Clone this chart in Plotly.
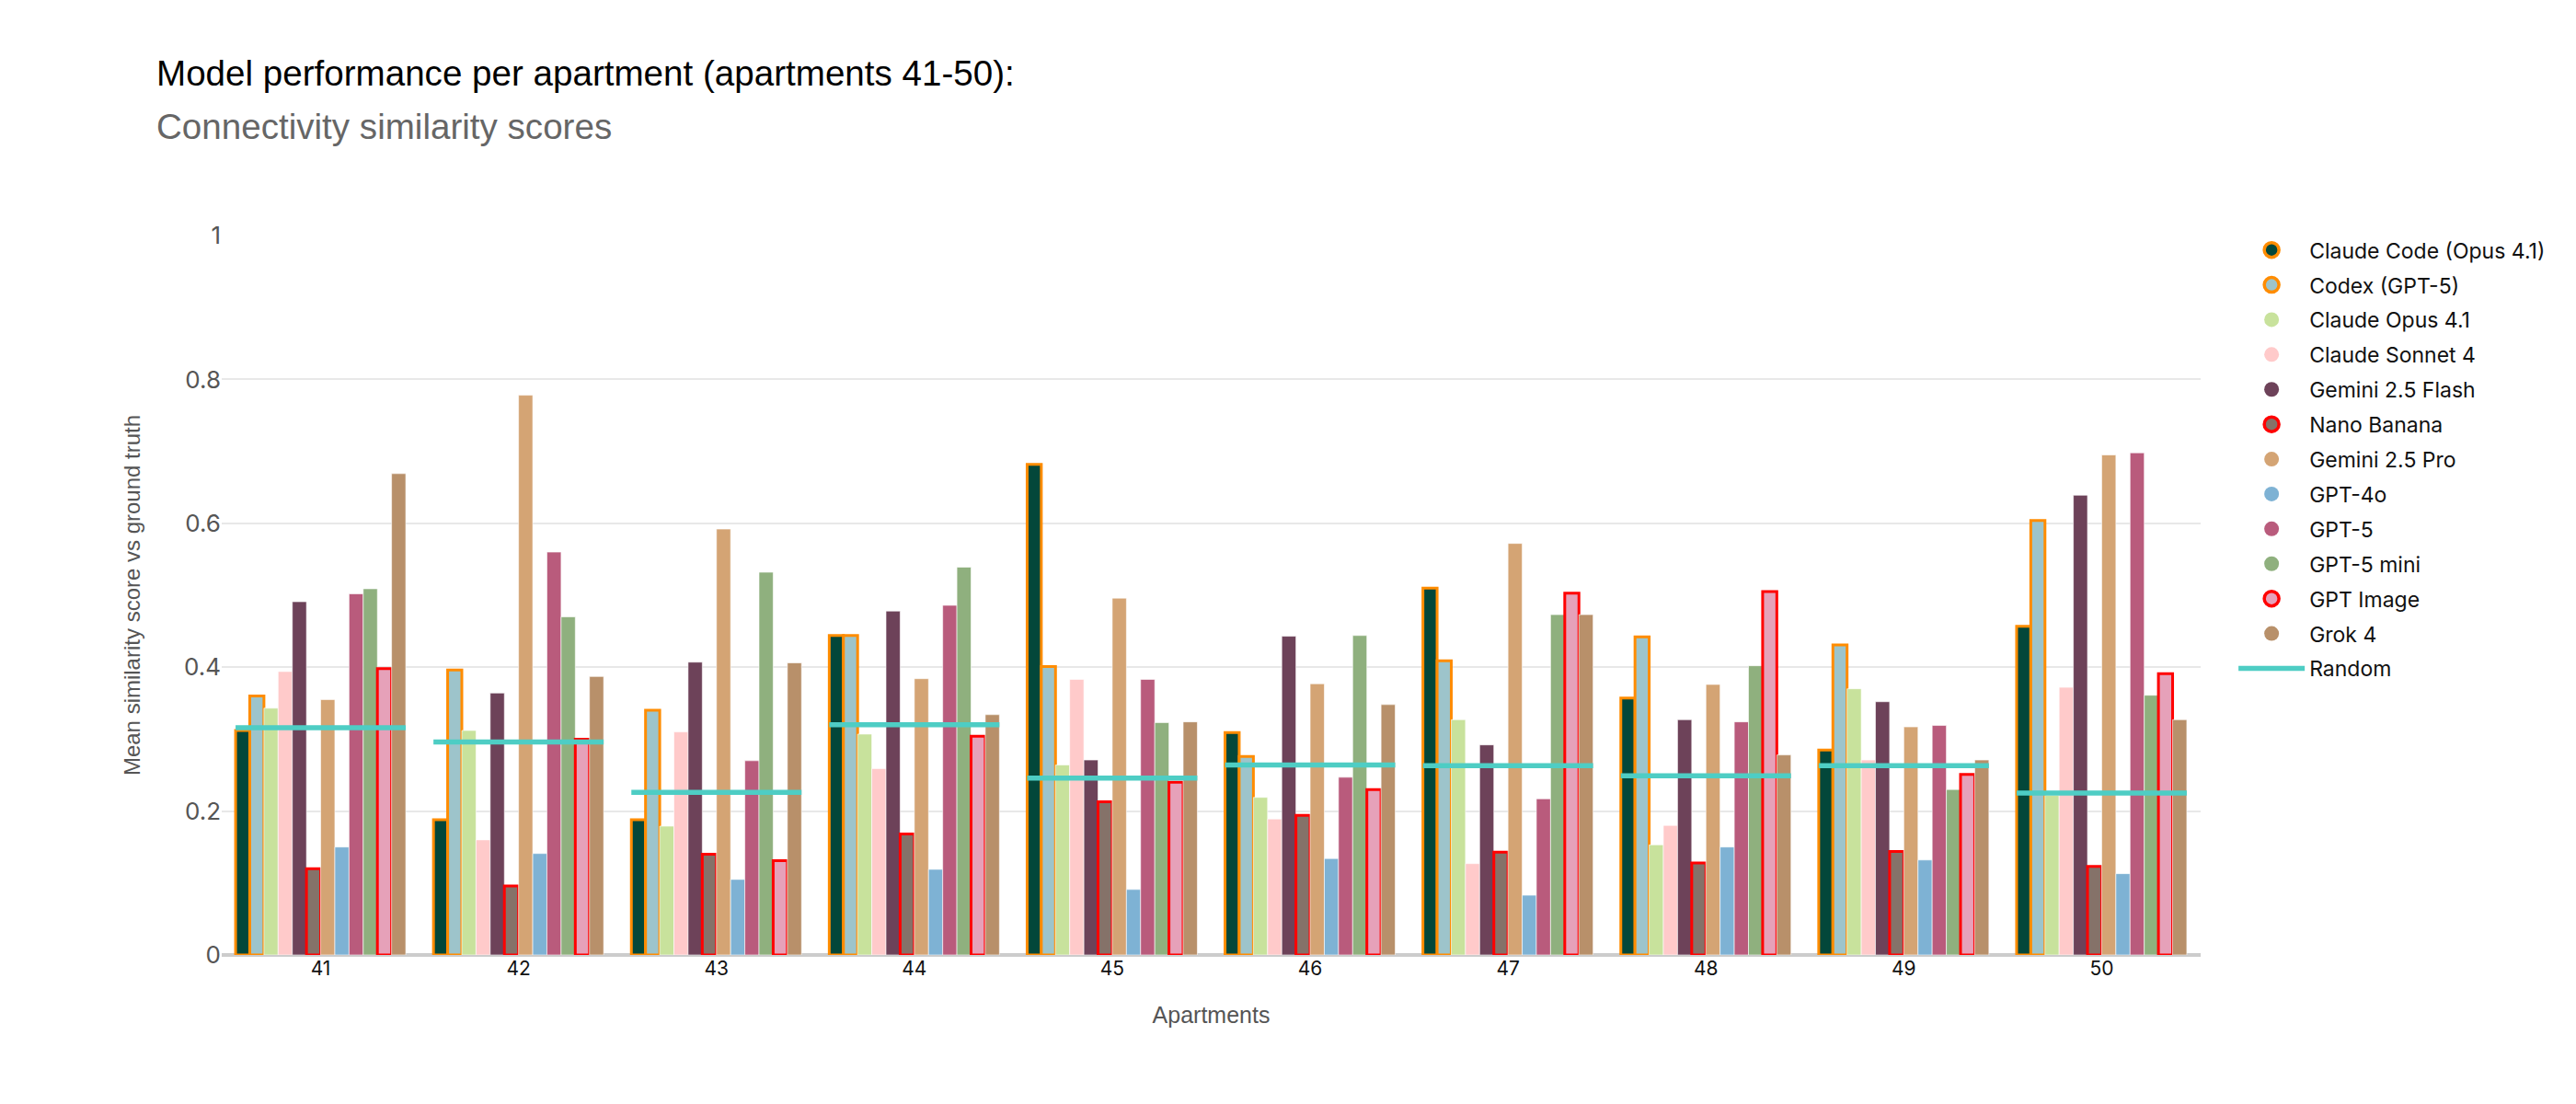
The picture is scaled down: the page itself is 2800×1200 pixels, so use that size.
import plotly.graph_objects as go

apartments = [41, 42, 43, 44, 45, 46, 47, 48, 49, 50]

models = ["Claude Code (Opus 4.1)", "Codex (GPT-5)", "Claude Opus 4.1", "Claude Sonnet 4",
          "Gemini 2.5 Flash", "Nano Banana", "Gemini 2.5 Pro", "GPT-4o", "GPT-5",
          "GPT-5 mini", "GPT Image", "Grok 4"]

claude_code = [0.312, 0.188, 0.188, 0.444, 0.682, 0.309, 0.510, 0.357, 0.285, 0.457]
codex = [0.360, 0.396, 0.340, 0.444, 0.401, 0.276, 0.409, 0.442, 0.431, 0.604]
claude_opus = [0.343, 0.312, 0.179, 0.307, 0.264, 0.219, 0.327, 0.153, 0.370, 0.222]
claude_sonnet = [0.394, 0.160, 0.310, 0.259, 0.383, 0.189, 0.127, 0.180, 0.271, 0.372]
gemini_flash = [0.491, 0.364, 0.407, 0.478, 0.271, 0.443, 0.292, 0.327, 0.352, 0.639]
nano_banana = [0.120, 0.096, 0.140, 0.168, 0.213, 0.194, 0.143, 0.128, 0.144, 0.123]
gemini_pro = [0.355, 0.778, 0.592, 0.384, 0.496, 0.377, 0.572, 0.376, 0.317, 0.695]
gpt_4o = [0.150, 0.141, 0.105, 0.119, 0.091, 0.134, 0.083, 0.150, 0.132, 0.113]
gpt_5 = [0.502, 0.560, 0.270, 0.486, 0.383, 0.247, 0.217, 0.324, 0.319, 0.698]
gpt_5_mini = [0.509, 0.470, 0.532, 0.539, 0.323, 0.444, 0.473, 0.402, 0.230, 0.361]
gpt_image = [0.398, 0.300, 0.131, 0.304, 0.240, 0.230, 0.503, 0.505, 0.251, 0.391]
grok_4 = [0.669, 0.387, 0.406, 0.334, 0.324, 0.348, 0.473, 0.278, 0.271, 0.327]
random_baseline = [0.316, 0.296, 0.226, 0.320, 0.246, 0.264, 0.263, 0.249, 0.263, 0.225]

series = [claude_code, codex, claude_opus, claude_sonnet, gemini_flash, nano_banana,
          gemini_pro, gpt_4o, gpt_5, gpt_5_mini, gpt_image, grok_4]

colors = ["#03473A", "#9DC4CB", "#C8E29C", "#FFCACA", "#6D4259", "#857269",
          "#D4A474", "#7EB2D4", "#B95B7C", "#8FB07E", "#E6A1B9", "#B8906A"]
outline = {0: "#FF8C00", 1: "#FF8C00", 5: "#FF0000", 10: "#FF0000"}

fig = go.Figure()
for i, (name, vals) in enumerate(zip(models, series)):
    lc = outline.get(i, "rgba(255,255,255,0.6)")
    lw = 3 if i in outline else 1
    fig.add_trace(go.Bar(x=apartments, y=vals, name=name, marker_color=colors[i],
                         marker_line_color=lc, marker_line_width=lw, showlegend=False))

# legend entries as circles
for i, name in enumerate(models):
    if i in outline:
        mk = dict(color=colors[i], size=18, line=dict(color=outline[i], width=3.5))
    else:
        mk = dict(color=colors[i], size=20, line=dict(width=0))
    fig.add_trace(go.Scatter(x=[None], y=[None], mode="markers", name=name, marker=mk,
                             legendgroup="g%d" % i))

half = 0.43
rx, ry = [], []
for a, r in zip(apartments, random_baseline):
    rx += [a - half, a + half, None]
    ry += [r, r, None]
fig.add_trace(go.Scatter(x=rx, y=ry, mode="lines", name="Random", legendgroup="rand",
                         line=dict(color="#4ECDC4", width=5.5)))

fig.update_layout(
    width=2800, height=1200,
    barmode="group", bargap=0.14, bargroupgap=0.0,
    plot_bgcolor="white", paper_bgcolor="white",
    margin=dict(l=233, r=416, t=248, b=170),
    font=dict(family="Inter", color="#222"),
    legend=dict(x=1.0168, y=1.0074, yanchor="top", xanchor="left",
                font=dict(size=23, color="#111", family="Inter"),
                itemwidth=72, tracegroupgap=5),
    annotations=[
        dict(text="Model performance per apartment (apartments 41-50):", xref="paper", yref="paper",
             x=-0.034, y=1.226, xanchor="left", yanchor="middle", showarrow=False,
             font=dict(size=38.6, color="#000", family="Liberation Sans")),
        dict(text="Connectivity similarity scores", xref="paper", yref="paper",
             x=-0.034, y=1.151, xanchor="left", yanchor="middle", showarrow=False,
             font=dict(size=38.6, color="#666", family="Liberation Sans")),
    ],
)
fig.update_xaxes(tickvals=apartments, ticktext=[str(a) for a in apartments],
                 range=[40.5, 50.5], showgrid=False, zeroline=False,
                 tickfont=dict(size=21, color="#111", family="Inter"),
                 title=dict(text="Apartments", font=dict(size=25, color="#555", family="Liberation Sans"),
                            standoff=30),
                 showline=False, ticks="")
fig.update_yaxes(range=[0, 1], tickvals=[0, 0.2, 0.4, 0.6, 0.8, 1],
                 ticktext=["0", "0.2", "0.4", "0.6", "0.8", "1"],
                 showgrid=True, gridcolor="#E8E8E8", gridwidth=2,
                 zeroline=True, zerolinecolor="#CCCCCC", zerolinewidth=4,
                 tickfont=dict(size=26, color="#555", family="Inter"),
                 title=dict(text="Mean similarity score vs ground truth",
                            font=dict(size=24, color="#555", family="Liberation Sans"), standoff=40),
                 ticks="", showline=False)

fig.write_html("out.html")
